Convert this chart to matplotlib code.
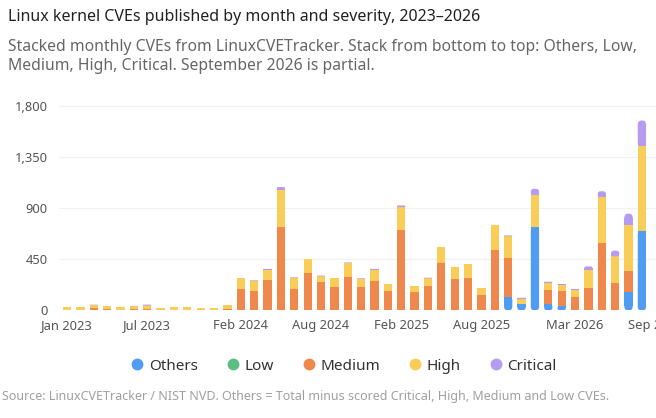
import numpy as np
import pandas as pd
import matplotlib
matplotlib.use("Agg")
from matplotlib import pyplot as plt
from matplotlib.patches import FancyBboxPatch, Rectangle
from matplotlib.lines import Line2D
from matplotlib.ticker import FuncFormatter

# months on the axis run Jan 2023 .. Sep 2026 (Sep is partial, no bar drawn)
months = pd.period_range("2023-01", "2026-09", freq="M")
tick_idx = [0, 6, 13, 19, 25, 31, 38, 44]

# monthly counts Jan 2023 .. Aug 2026
others = [0, 0, 0, 0, 0, 0, 0, 0, 0, 0, 0, 0,
          0, 0, 0, 0, 0, 0, 0, 0, 0, 0, 0, 0,
          0, 0, 0, 0, 0, 0, 0, 0, 0, 123, 55, 732,
          59, 41, 0, 0, 0, 0, 159, 703]
low = [0] * 44
medium = [8, 8, 18, 15, 8, 10, 14, 6, 6, 8, 6, 6,
          10, 190, 175, 269, 734, 187, 328, 251, 205, 293, 205, 257,
          169, 710, 163, 216, 422, 276, 282, 135, 529, 336, 5, 0,
          117, 127, 118, 194, 594, 238, 188, 0]
high = [22, 20, 32, 25, 20, 28, 30, 18, 22, 24, 18, 18,
        35, 94, 85, 90, 329, 100, 126, 50, 79, 127, 73, 103,
        62, 200, 53, 67, 138, 106, 130, 62, 221, 195, 40, 288,
        70, 58, 65, 162, 406, 238, 406, 743]
critical = [0, 0, 3, 0, 0, 2, 8, 0, 0, 0, 0, 0,
            0, 0, 6, 7, 24, 6, 0, 6, 0, 5, 6, 6,
            0, 15, 0, 6, 0, 0, 0, 0, 0, 7, 12, 51,
            7, 7, 6, 32, 50, 51, 100, 227]

series = [("Others", others, "#4f9cf2"),
          ("Low", low, "#5dbe84"),
          ("Medium", medium, "#ef884c"),
          ("High", high, "#f9cd58"),
          ("Critical", critical, "#b59cf0")]

plt.rcParams["font.family"] = ["Noto Sans", "DejaVu Sans"]

fig = plt.figure(figsize=(6.56, 4.18), dpi=100)
ax = fig.add_axes([0.0899, 0.2572, 0.9212, 0.5163])
ax.set_xlim(-0.6, 44.6)
ax.set_ylim(0, 1900)

# data units per pixel, for round corners that stay circular
ax_w = 0.9212 * 656
ax_h = 0.5163 * 418
dx = 45.2 / ax_w
dy = 1900 / ax_h
aspect = dy / dx

bar_w = 0.62
r_px = 4.0


def draw_segment(x, bottom, h, color, round_top=False, round_bottom=False):
    if h <= 0:
        return
    left = x - bar_w / 2
    if not (round_top or round_bottom):
        ax.add_patch(Rectangle((left, bottom), bar_w, h, color=color, lw=0))
        return
    r = min(r_px * dx, h / (2 * aspect))
    ax.add_patch(FancyBboxPatch((left, bottom), bar_w, h,
                                boxstyle=f"round,pad=0,rounding_size={r}",
                                mutation_aspect=aspect, color=color, lw=0))
    ry = r * aspect
    # square off the end that should not be rounded
    if round_top and not round_bottom:
        ax.add_patch(Rectangle((left, bottom), bar_w, h - ry, color=color, lw=0))
    if round_bottom and not round_top:
        ax.add_patch(Rectangle((left, bottom + ry), bar_w, h - ry, color=color, lw=0))


base = np.zeros(len(others))
for name, vals, color in series:
    vals = np.array(vals, dtype=float)
    for i, v in enumerate(vals):
        draw_segment(i, base[i], v, color,
                     round_top=(name == "Critical"),
                     round_bottom=(name == "Others"))
    base += vals

# grid and axes styling
ax.set_yticks([0, 450, 900, 1350, 1800])
ax.yaxis.set_major_formatter(FuncFormatter(lambda v, p: f"{int(v):,}"))
ax.grid(axis="y", color="#f1f1f1", lw=0.8)
ax.set_axisbelow(True)
for s in ax.spines.values():
    s.set_visible(False)
ax.set_xticks(tick_idx)
ax.set_xticklabels([months[i].strftime("%b %Y") for i in tick_idx])
ax.tick_params(axis="both", length=0, labelsize=9.3, colors="#555555")
ax.tick_params(axis="x", pad=6)
ax.tick_params(axis="y", pad=8)

# titles
fig.text(0.012, 0.960, "Linux kernel CVEs published by month and severity, 2023\u20132026",
         fontsize=11.5, fontweight="bold", color="#222222", va="center")
fig.text(0.012, 0.887, "Stacked monthly CVEs from LinuxCVETracker. Stack from bottom to top: Others, Low,",
         fontsize=11.3, color="#666666", va="center")
fig.text(0.012, 0.842, "Medium, High, Critical. September 2026 is partial.",
         fontsize=11.3, color="#666666", va="center")

# legend
handles = [Line2D([], [], marker="o", ls="", ms=7.5, color=c, label=n) for n, _, c in series]
fig.legend(handles=handles, loc="center", bbox_to_anchor=(0.522, 0.124), ncol=5,
           frameon=False, fontsize=11, handletextpad=0.15, columnspacing=1.7,
           handlelength=1.2, labelcolor="#333333")

fig.text(0.003, 0.052, "Source: LinuxCVETracker / NIST NVD. Others = Total minus scored Critical, High, Medium and Low CVEs.",
         fontsize=9, color="#a0a0a0", va="center")

fig.savefig("out.png", dpi=100, facecolor="white")
